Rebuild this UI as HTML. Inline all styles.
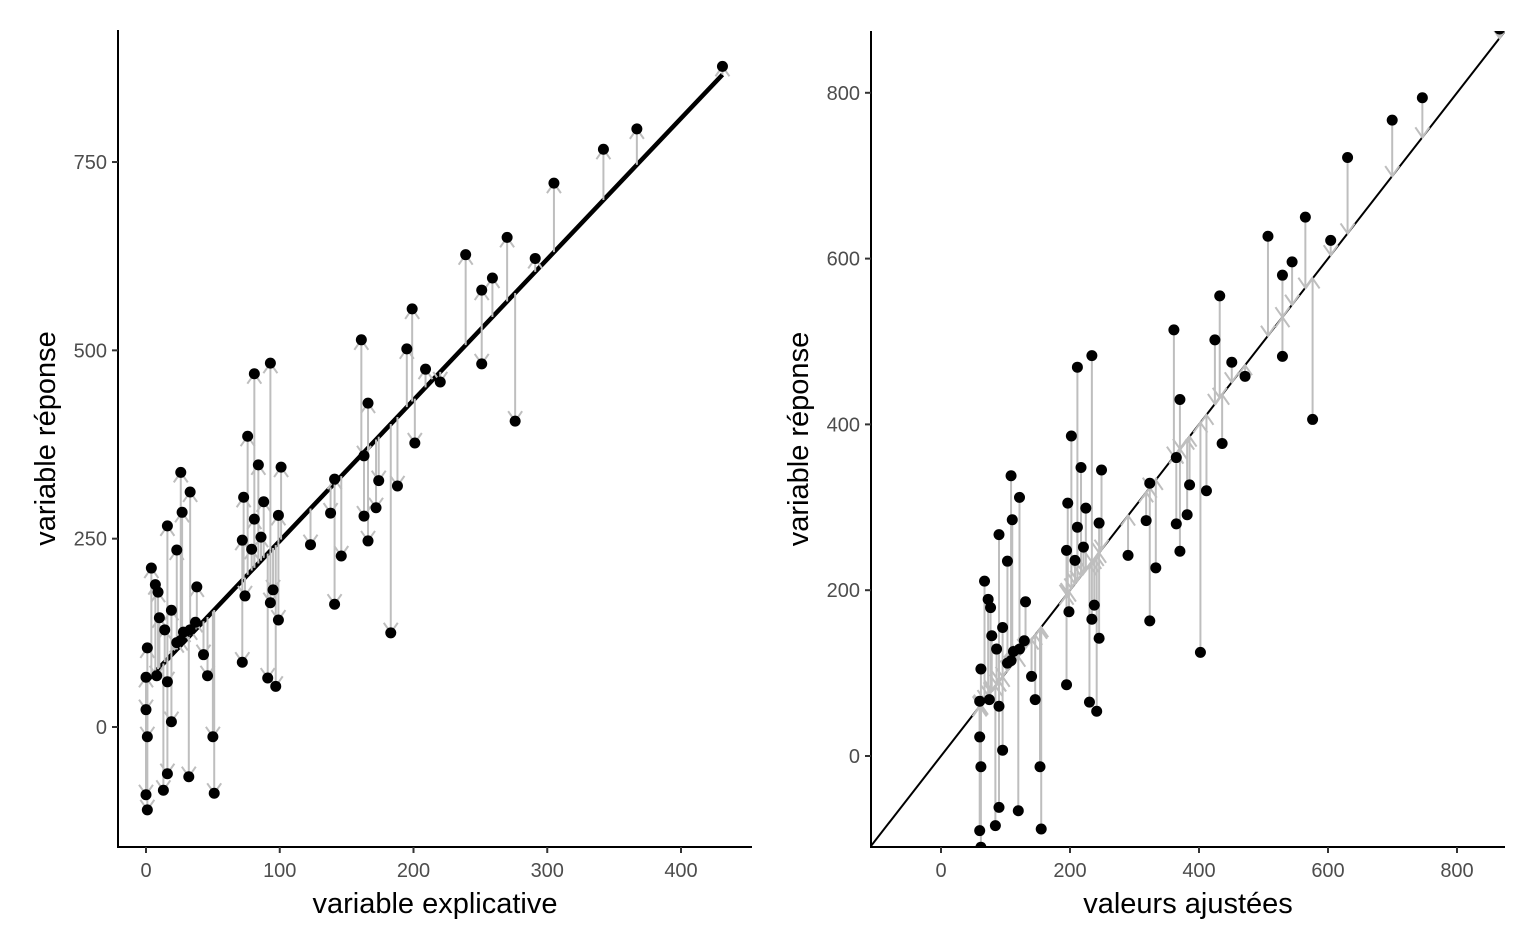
<!DOCTYPE html>
<html><head><meta charset="utf-8"><style>
html,body{margin:0;padding:0;background:#fff;}
svg{display:block;font-family:"Liberation Sans",sans-serif;}
</style></head><body>
<svg id="c" width="1536" height="949" xmlns="http://www.w3.org/2000/svg"></svg>
<script>
const xs=[431,367,342,305,270,239,291,259,251,251,276,199,195,209,220,201,188,174,172,166,161,163,163,166,183,146,141,138,141,123,101,93,81,76,84,88,73,72,74,72,81,86,93,99,99,91,97,95,79,50,51,46,43,38,33,33,32,26,27,23,26,19,16,16,16,13,9,7,4,1,8,10,0,0,1,0,1,19,14,28,37,23];
const ys=[877,794,767,722,650,627,622,596,580,482,406,555,502,475,458,377,320,327,291,430,514,360,280,247,125,227,329,284,163,242,345,483,469,386,348,299,305,248,174,86,276,252,165,281,142,65,54,182,236,-13,-88,68,96,186,129,312,-66,338,285,235,115,7,267,60,-62,-84,179,189,211,105,68,145,66,23,-13,-90,-110,155,129,126,139,112];
const intercept=60, slope=1.87;
const leftXTicks=[0,100,200,300,400], leftYTicks=[0,250,500,750];
const rightXTicks=[0,200,400,600,800], rightYTicks=[0,200,400,600,800];

const svg=document.getElementById('c');
const NS='http://www.w3.org/2000/svg';
function mk(tag,attrs,parent){const e=document.createElementNS(NS,tag);for(const k in attrs)e.setAttribute(k,attrs[k]);(parent||svg).appendChild(e);return e;}
const fit=x=>intercept+slope*x;

const L={sx:x=>146+x*1.3375, sy:y=>727-y*0.7533, x0:118,x1:752,y0:30,y1:847};
const R={sx:x=>941+x*0.645, sy:y=>756-y*0.829, x0:871,x1:1505,y0:31,y1:847};

function panel(P,name,xt,yt,xTicks,yTicks,xvals,yvals,lineFn,headAtPoint){
  const g=mk('g',{});
  
  
  const cp=mk('clipPath',{id:name+'-clip'},g);
  mk('rect',{x:P.x0,y:P.y0,width:P.x1-P.x0,height:P.y1-P.y0},cp);
  const plot=mk('g',{'clip-path':'url(#'+name+'-clip)'},g);
  lineFn(plot);
  for(let i=0;i<xvals.length;i++){
    const px=P.sx(xvals[i]), py=P.sy(yvals[i]), fy=P.sy(fit(xs[i]));
    const a=mk('g',{stroke:'#bebebe','stroke-width':2,fill:'none'},plot);
    
    
    mk('line',{x1:px,y1:py,x2:px,y2:fy},a);
    const sy=headAtPoint?fy:py, ey=headAtPoint?py:fy;
    const d=ey>sy?1:-1;
    mk('polyline',{points:`${px-7},${ey-d*10} ${px},${ey} ${px+7},${ey-d*10}`},a);
  }
  for(let i=0;i<xvals.length;i++){
    const c=mk('circle',{cx:P.sx(xvals[i]),cy:P.sy(yvals[i]),r:5.5,fill:'#000'},plot);
    
    
  }
  const ax=mk('g',{stroke:'#000','stroke-width':2},g);
  
  
  mk('line',{x1:P.x0,y1:P.y0,x2:P.x0,y2:P.y1+1},ax);
  mk('line',{x1:P.x0-1,y1:P.y1,x2:P.x1,y2:P.y1},ax);
  xTicks.forEach(v=>{
    const x=P.sx(v);
    mk('line',{x1:x,y1:P.y1,x2:x,y2:P.y1+6,stroke:'#333','stroke-width':2},g);
    const t=mk('text',{x:x,y:P.y1+30,'text-anchor':'middle','font-size':20,fill:'#4d4d4d'},g);
    t.textContent=v;
    
    
  });
  yTicks.forEach(v=>{
    const y=P.sy(v);
    mk('line',{x1:P.x0-6,y1:y,x2:P.x0,y2:y,stroke:'#333','stroke-width':2},g);
    const t=mk('text',{x:P.x0-11,y:y+7,'text-anchor':'end','font-size':20,fill:'#4d4d4d'},g);
    t.textContent=v;
    
    
  });
  const xtl=mk('text',{x:(P.x0+P.x1)/2,y:913,'text-anchor':'middle','font-size':29,fill:'#000'},g);
  xtl.textContent=xt;
  
  
  const yx=P.x0-63, yc=(P.y0+P.y1)/2;
  const ytl=mk('text',{x:yx,y:yc,'text-anchor':'middle','font-size':29,fill:'#000',transform:`rotate(-90 ${yx} ${yc})`},g);
  ytl.textContent=yt;
  
  
}

panel(L,'left-panel','variable explicative','variable réponse',leftXTicks,leftYTicks,xs,ys,p=>{
  const l=mk('line',{x1:L.sx(0),y1:L.sy(fit(0)),x2:L.sx(431),y2:L.sy(fit(431)),stroke:'#000','stroke-width':4.5},p);
  
  
},true);
const fitted=xs.map(fit);
panel(R,'right-panel','valeurs ajustées','variable réponse',rightXTicks,rightYTicks,fitted,ys,p=>{
  const l=mk('line',{x1:R.sx(-200),y1:R.sy(-200),x2:R.sx(1000),y2:R.sy(1000),stroke:'#000','stroke-width':2},p);
  
  
},false);
</script>
</body></html>
